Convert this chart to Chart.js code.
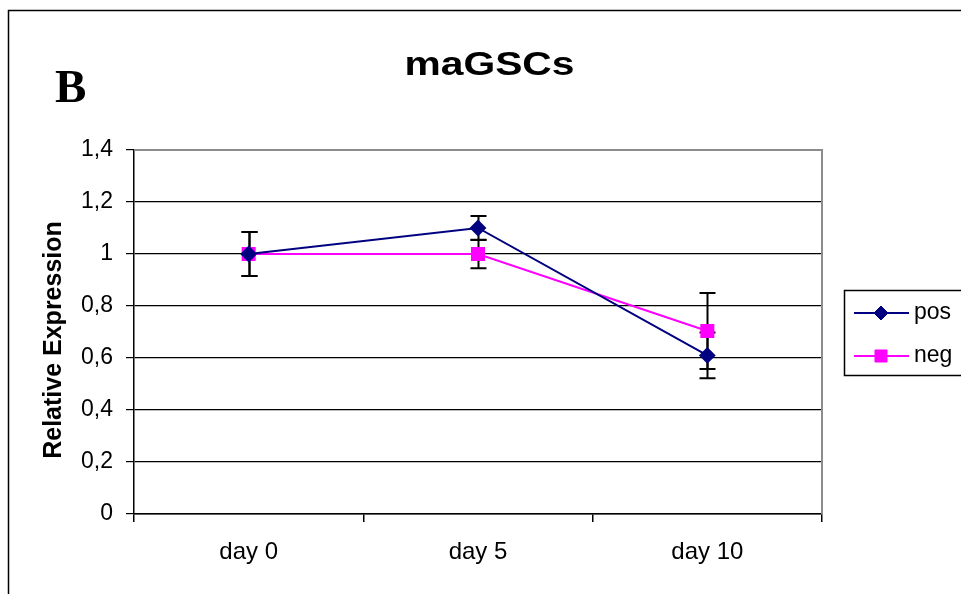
<!DOCTYPE html>
<html>
<head>
<meta charset="utf-8">
<script src="https://cdn.jsdelivr.net/npm/chart.js@4/dist/chart.umd.min.js"></script>
<style>
html,body{margin:0;padding:0;background:#fff;}
#wrap{position:relative;width:961px;height:594px;}
canvas{display:block;}
</style>
</head>
<body>
<div id="wrap"><canvas id="c" width="961" height="594"></canvas></div>
<script>
const categories = ['day 0', 'day 5', 'day 10'];
const posValues = [1.0, 1.1, 0.61];
const negValues = [1.0, 1.0, 0.704];
const posErrors = [0.085, 0.046, 0.088];
const negErrors = [0.085, 0.055, 0.146];
const yTicks = [0, 0.2, 0.4, 0.6, 0.8, 1.0, 1.2, 1.4];
const titleText = 'maGSCs';
const panelLabel = 'B';
const yTitle = 'Relative Expression';

const errorSets = [posErrors, negErrors];

const decorPlugin = {
  id: 'decor',
  beforeDraw(chart) {
    const ctx = chart.ctx;
    ctx.save();
    ctx.fillStyle = '#fff';
    ctx.fillRect(0, 0, chart.width, chart.height);
    // outer frame
    ctx.strokeStyle = '#000';
    ctx.lineWidth = 1.5;
    ctx.beginPath();
    ctx.moveTo(8.5, 600);
    ctx.lineTo(8.5, 10.5);
    ctx.lineTo(970, 10.5);
    ctx.stroke();
    // panel label
    ctx.fillStyle = '#000';
    ctx.font = 'bold 47px "Liberation Serif", "Times New Roman", serif';
    ctx.textAlign = 'left';
    ctx.textBaseline = 'alphabetic';
    ctx.fillText(panelLabel, 55, 102);
    // title (stretched horizontally)
    ctx.font = 'bold 34px "Liberation Sans", Arial, sans-serif';
    const w = ctx.measureText(titleText).width;
    const sx = 170 / w;
    ctx.translate(489.5, 75);
    ctx.scale(sx, 1);
    ctx.textAlign = 'center';
    ctx.fillText(titleText, 0, 0);
    ctx.restore();
    // y title
    ctx.save();
    ctx.fillStyle = '#000';
    ctx.font = 'bold 25px "Liberation Sans", Arial, sans-serif';
    ctx.translate(61, 340);
    ctx.rotate(-Math.PI / 2);
    ctx.textAlign = 'center';
    ctx.textBaseline = 'alphabetic';
    ctx.fillText(yTitle, 0, 0);
    ctx.restore();
  },
  beforeDatasetsDraw(chart) {
    const ctx = chart.ctx;
    const a = chart.chartArea;
    const xs = chart.scales.x, ys = chart.scales.y;
    ctx.save();
    // plot area border top/right gray
    ctx.strokeStyle = '#8c8c8c';
    ctx.lineWidth = 2;
    ctx.beginPath();
    ctx.moveTo(a.left, a.top);
    ctx.lineTo(a.right, a.top);
    ctx.lineTo(a.right, a.bottom);
    ctx.stroke();
    // error bars
    ctx.strokeStyle = '#000';
    ctx.lineWidth = 2;
    chart.data.datasets.forEach((ds, i) => {
      const errs = errorSets[i];
      ds.data.forEach((v, j) => {
        const x = Math.round(xs.getPixelForValue(j)) + 0.5;
        const yt = ys.getPixelForValue(v + errs[j]);
        const yb = ys.getPixelForValue(v - errs[j]);
        ctx.beginPath();
        ctx.moveTo(x, yt); ctx.lineTo(x, yb);
        ctx.moveTo(x - 8, yt); ctx.lineTo(x + 8, yt);
        ctx.moveTo(x - 8, yb); ctx.lineTo(x + 8, yb);
        ctx.stroke();
      });
    });
    ctx.restore();
  },
  afterDraw(chart) {
    const ctx = chart.ctx;
    ctx.save();
    // legend box
    ctx.strokeStyle = '#000';
    ctx.lineWidth = 1.5;
    ctx.strokeRect(844.5, 290.5, 140, 85);
    const rows = [313, 356];
    chart.data.datasets.forEach((ds, i) => {
      const y = rows[i];
      ctx.strokeStyle = ds.borderColor;
      ctx.lineWidth = 2;
      ctx.beginPath();
      ctx.moveTo(854, y); ctx.lineTo(909, y);
      ctx.stroke();
      ctx.fillStyle = ds.pointBackgroundColor;
      ctx.strokeStyle = ds.pointBorderColor;
      ctx.lineWidth = 1;
      Chart.helpers.drawPoint(ctx, {pointStyle: ds.pointStyle, radius: ds.pointRadius, borderWidth: 1}, 881, y);
      ctx.fillStyle = '#000';
      ctx.font = '23px "Liberation Sans", Arial, sans-serif';
      ctx.textAlign = 'left';
      ctx.textBaseline = 'middle';
      ctx.fillText(ds.label, 914, y);
    });
    ctx.restore();
  }
};

new Chart(document.getElementById('c'), {
  type: 'line',
  data: {
    labels: categories,
    datasets: [
      {
        label: 'pos',
        data: posValues,
        borderColor: '#000080',
        backgroundColor: '#000080',
        pointBackgroundColor: '#000080',
        pointBorderColor: '#000080',
        pointStyle: 'rectRot',
        pointRadius: 7,
        borderWidth: 2,
        tension: 0
      },
      {
        label: 'neg',
        data: negValues,
        borderColor: '#ff00ff',
        backgroundColor: '#ff00ff',
        pointBackgroundColor: '#ff00ff',
        pointBorderColor: '#ff00ff',
        pointStyle: 'rect',
        pointRadius: 8.5,
        borderWidth: 2,
        tension: 0
      }
    ]
  },
  options: {
    responsive: false,
    animation: false,
    devicePixelRatio: 1,
    layout: { padding: { top: 150, left: 0, right: 139, bottom: 0 } },
    plugins: {
      legend: { display: false },
      title: { display: false },
      tooltip: { enabled: false }
    },
    scales: {
      x: {
        offset: true,
        afterFit(s) { s.height = 80; },
        grid: { display: true, offset: true, drawOnChartArea: false, drawTicks: true, tickLength: 8, color: '#000', lineWidth: 1.5 },
        border: { display: true, color: '#000', width: 1.5 },
        ticks: { color: '#000', font: { family: '"Liberation Sans", Arial, sans-serif', size: 24 }, padding: 16, maxRotation: 0 }
      },
      y: {
        min: 0,
        max: 1.4,
        afterFit(s) { s.width = 134; },
        afterBuildTicks(s) { s.ticks = yTicks.map(v => ({ value: v })); },
        grid: {
          color: ctx => (ctx.tick && Math.abs(ctx.tick.value - 1.4) < 1e-6) ? '#8c8c8c' : '#000',
          lineWidth: 1.2,
          tickLength: 8,
          tickColor: '#000'
        },
        border: { display: true, color: '#000', width: 1.5 },
        ticks: {
          color: '#000',
          padding: 13,
          font: { family: '"Liberation Sans", Arial, sans-serif', size: 23 },
          callback: v => String(Math.round(v * 10) / 10).replace('.', ',')
        }
      }
    }
  },
  plugins: [decorPlugin]
});
</script>
</body>
</html>
